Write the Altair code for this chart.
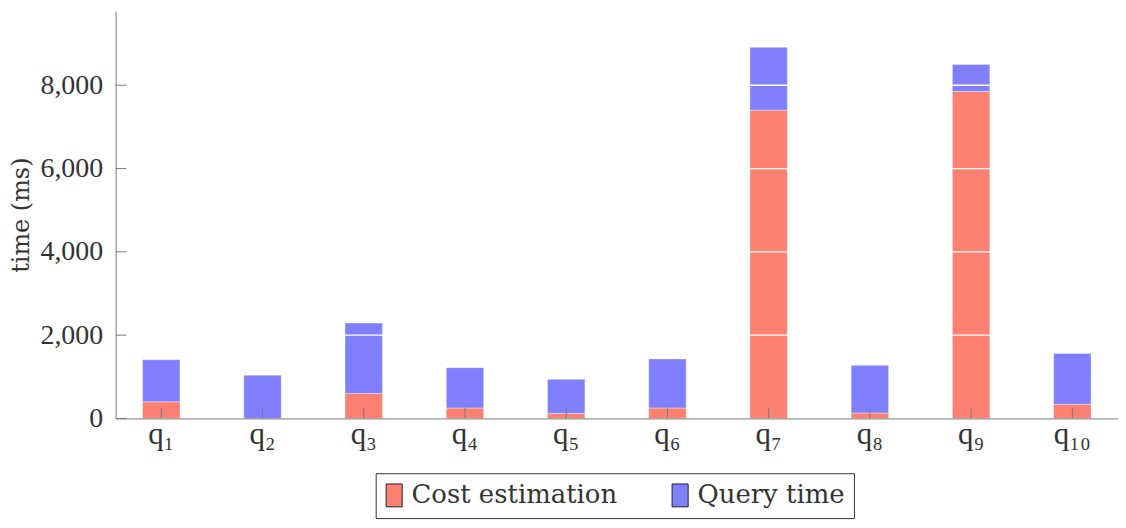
import altair as alt
import pandas as pd

queries = ["q₁", "q₂", "q₃", "q₄", "q₅", "q₆", "q₇", "q₈", "q₉", "q₁₀"]
cost_estimation = [400, 0, 600, 250, 120, 250, 7400, 130, 7850, 340]
query_time = [1010, 1040, 1690, 970, 820, 1180, 1510, 1145, 650, 1220]
series = ["Cost estimation", "Query time"]
colors = ["#FC8072", "#8080FF"]
y_ticks = [0, 2000, 4000, 6000, 8000]
grid_lines = [2000, 4000, 6000, 8000]
y_max = 9785

W, H = 1006, 409

rows = []
for q, c, t in zip(queries, cost_estimation, query_time):
    rows.append({"query": q, "series": series[0], "value": c, "order": 0})
    rows.append({"query": q, "series": series[1], "value": t, "order": 1})
df = pd.DataFrame(rows)

x_scale = alt.Scale(domain=queries, paddingInner=0.63, paddingOuter=0.266)
y_scale = alt.Scale(domain=[0, y_max], nice=False, zero=True)

x_axis = alt.Axis(title=None, ticks=False, tickSize=0, labelAngle=0,
                  labelFont="Liberation Serif", labelFontSize=31,
                  labelColor="#333333", labelPadding=1,
                  domainColor="#7a7a7a", domainWidth=1, zindex=1)
y_axis = alt.Axis(values=y_ticks, format=",d", title="time (ms)",
                  ticks=False, tickSize=0, grid=False,
                  labelFont="Liberation Serif", labelFontSize=28,
                  labelColor="#333333", labelPadding=13,
                  titleFont="DejaVu Serif", titleFontSize=24,
                  titleFontWeight="normal", titleColor="#333333",
                  titlePadding=6,
                  domainColor="#7a7a7a", domainWidth=1, zindex=1)

bars = alt.Chart(df).mark_bar(stroke="white", strokeWidth=0.8, strokeOpacity=0.45).encode(
    x=alt.X("query:N", sort=queries, scale=x_scale, axis=x_axis),
    y=alt.Y("value:Q", stack="zero", scale=y_scale, axis=y_axis, title="time (ms)"),
    color=alt.Color("series:N", scale=alt.Scale(domain=series, range=colors),
                    legend=alt.Legend(title=None, orient="none", legendX=261, legendY=464,
                                      direction="horizontal",
                                      symbolType="M-1,-1L0.4,-1L0.4,1L-1,1Z",
                                      symbolSize=529, symbolStrokeColor="#222222",
                                      symbolStrokeWidth=1, symbolOpacity=1,
                                      labelFont="DejaVu Serif", labelFontSize=26,
                                      labelColor="#333333", labelOffset=1,
                                      labelLimit=400,
                                      columnPadding=52, padding=9,
                                      strokeColor="#333333", fillColor="white")),
    order=alt.Order("order:Q"),
)

grid = alt.Chart(pd.DataFrame({"value": grid_lines})).mark_rule(
    color="white", strokeWidth=1.3
).encode(
    y=alt.Y("value:Q", scale=y_scale, axis=y_axis, title="time (ms)"),
    x=alt.value(1), x2=alt.value(W),
)

x_ticks = alt.Chart(pd.DataFrame({"query": queries})).mark_rule(
    color="#7a7a7a", strokeWidth=1
).encode(
    x=alt.X("query:N", sort=queries, scale=x_scale, axis=x_axis),
    y=alt.value(H), y2=alt.value(H - 11),
)

y_tick_marks = alt.Chart(pd.DataFrame({"value": y_ticks})).mark_rule(
    color="#7a7a7a", strokeWidth=1
).encode(
    y=alt.Y("value:Q", scale=y_scale, axis=y_axis, title="time (ms)"),
    x=alt.value(0), x2=alt.value(11),
)

chart = alt.layer(bars, grid, x_ticks, y_tick_marks).properties(
    width=W, height=H,
    autosize=alt.AutoSizeParams(type="none"),
    padding={"left": 108, "top": 2, "right": 0, "bottom": 101},
).configure_view(stroke=None)

chart.save("out.html", embed_options={"renderer": "svg", "actions": False})
